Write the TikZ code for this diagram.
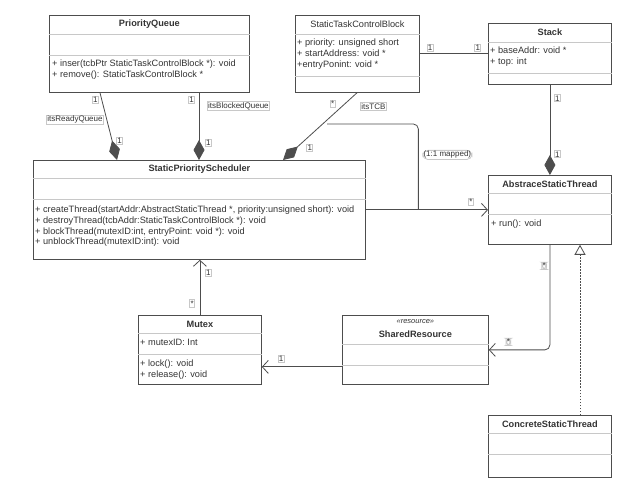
\documentclass[tikz,border=0pt]{standalone}
\usepackage{fontspec}
\setmainfont{Liberation Sans}
\usetikzlibrary{arrows.meta,calc}
\definecolor{ink}{HTML}{333333}
\definecolor{edge}{HTML}{4D4D4D}
\definecolor{rule}{HTML}{C8C8C8}

\begin{document}
\begin{tikzpicture}[x=1pt, y=-1pt,
  cls/.style={draw=edge, line width=0.8pt, anchor=north west, inner sep=0pt},
  clsname/.style={font=\fontsize{9.2}{10}\selectfont\bfseries, text=ink},
  member/.style={font=\fontsize{9.2}{10.7}\selectfont, text=ink, align=left, anchor=north west, inner sep=0pt},
  divider/.style={draw=rule, line width=0.6pt},
  mult/.style={font=\fontsize{8}{8}\selectfont, text=ink, draw=rule, fill=white, inner sep=0.8pt},
  compo/.style={draw=edge, line width=0.8pt, -{Diamond[length=20pt, width=11pt]}},
  assoc/.style={draw=edge, line width=0.8pt, -{Straight Barb[length=6pt, width=13pt]}},
  link/.style={draw=edge, line width=0.8pt},
  realize/.style={draw=edge, line width=0.8pt, dash pattern=on 1.5pt off 1.5pt, -{Triangle[open, length=10pt, width=11pt, fill=white]}},
]
\useasboundingbox (0,0) rectangle (637,502);

% classes
\node[cls, minimum width=200pt, minimum height=77pt] (pq) at (49,15) {};
\node[clsname] (pqname) at ($(pq.north)+(0,9.5)$) {PriorityQueue};
\draw[divider] ($(pq.north west)+(0,19)$) -- ($(pq.north east)+(0,19)$);
\draw[divider] ($(pq.north west)+(0,40)$) -- ($(pq.north east)+(0,40)$);
\node[member] (pqops) at ($(pq.north west)+(3,45)$) {+ inser(tcbPtr StaticTaskControlBlock *): void\\+ remove(): StaticTaskControlBlock *};

\node[cls, minimum width=124pt, minimum height=77pt] (stcb) at (295,15) {};
\node[clsname, font=\fontsize{9.2}{10}\selectfont] (stcbname) at ($(stcb.north)+(0,9.5)$) {StaticTaskControlBlock};
\draw[divider] ($(stcb.north west)+(0,19)$) -- ($(stcb.north east)+(0,19)$);
\draw[divider] ($(stcb.north west)+(0,61)$) -- ($(stcb.north east)+(0,61)$);
\node[member] (stcbattr) at ($(stcb.north west)+(2,24)$) {+ priority: unsigned short\\+ startAddress: void *\\+entryPonint: void *};

\node[cls, minimum width=123pt, minimum height=61pt] (stack) at (488,23) {};
\node[clsname] (stackname) at ($(stack.north)+(0,9.5)$) {Stack};
\draw[divider] ($(stack.north west)+(0,19)$) -- ($(stack.north east)+(0,19)$);
\draw[divider] ($(stack.north west)+(0,50)$) -- ($(stack.north east)+(0,50)$);
\node[member] (stackattr) at ($(stack.north west)+(2,24)$) {+ baseAddr: void *\\+ top: int};

\node[cls, minimum width=332pt, minimum height=99pt] (sps) at (33,160) {};
\node[clsname] (spsname) at ($(sps.north)+(0,9)$) {StaticPriorityScheduler};
\draw[divider] ($(sps.north west)+(0,18)$) -- ($(sps.north east)+(0,18)$);
\draw[divider] ($(sps.north west)+(0,39)$) -- ($(sps.north east)+(0,39)$);
\node[member] (spsops) at ($(sps.north west)+(2,46)$) {+ createThread(startAddr:AbstractStaticThread *, priority:unsigned short): void\\+ destroyThread(tcbAddr:StaticTaskControlBlock *): void\\+ blockThread(mutexID:int, entryPoint: void *): void\\+ unblockThread(mutexID:int): void};

\node[cls, minimum width=123pt, minimum height=69pt] (ast) at (488,175) {};
\node[clsname] (astname) at ($(ast.north)+(0,9)$) {AbstraceStaticThread};
\draw[divider] ($(ast.north west)+(0,18)$) -- ($(ast.north east)+(0,18)$);
\draw[divider] ($(ast.north west)+(0,39)$) -- ($(ast.north east)+(0,39)$);
\node[member] (astops) at ($(ast.north west)+(3,45)$) {+ run(): void};

\node[cls, minimum width=123pt, minimum height=69pt] (mutex) at (138,315) {};
\node[clsname] (mutexname) at ($(mutex.north)+(0,9)$) {Mutex};
\draw[divider] ($(mutex.north west)+(0,18)$) -- ($(mutex.north east)+(0,18)$);
\draw[divider] ($(mutex.north west)+(0,39)$) -- ($(mutex.north east)+(0,39)$);
\node[member] (mutexattr) at ($(mutex.north west)+(2,24)$) {+ mutexID: Int};
\node[member] (mutexops) at ($(mutex.north west)+(2,45)$) {+ lock(): void\\+ release(): void};

\node[cls, minimum width=146pt, minimum height=69pt] (sr) at (342,315) {};
\node[member, anchor=center, font=\fontsize{7.5}{8}\selectfont\itshape] (srtype) at ($(sr.north)+(0,7)$) {<<resource>>};
\node[clsname] (srname) at ($(sr.north)+(0,19)$) {SharedResource};
\draw[divider] ($(sr.north west)+(0,29)$) -- ($(sr.north east)+(0,29)$);
\draw[divider] ($(sr.north west)+(0,50)$) -- ($(sr.north east)+(0,50)$);

\node[cls, minimum width=123pt, minimum height=62pt] (cst) at (488,415) {};
\node[clsname] (cstname) at ($(cst.north)+(0,9)$) {ConcreteStaticThread};
\draw[divider] ($(cst.north west)+(0,18)$) -- ($(cst.north east)+(0,18)$);
\draw[divider] ($(cst.north west)+(0,39)$) -- ($(cst.north east)+(0,39)$);

% relations
\draw[compo] ($(pq.south west)+(51,0)$) --
  node[mult, pos=0.1, left=3pt] {1}
  node[mult, pos=0.4, left=3pt] {itsReadyQueue}
  node[mult, pos=0.72, right=4pt] {1} ($(sps.north west)+(84,0)$);
\draw[compo] ($(pq.south west)+(150,0)$) --
  node[mult, pos=0.1, left=4pt] {1}
  node[mult, pos=0.2, right=8pt] {itsBlockedQueue}
  node[mult, pos=0.75, right=6pt] {1} ($(sps.north west)+(166,0)$);
\draw[compo] ($(stcb.south west)+(62,0)$) --
  node[mult, pos=0.17, left=9pt] {*}
  node[mult, pos=0.2, right=18pt] {itsTCB}
  node[mult, pos=0.82, right=10pt] {1} ($(sps.north west)+(250,0)$);
\draw[link] (stcb.east) --
  node[mult, pos=0.15, above=2pt] {1}
  node[mult, pos=0.85, above=2pt] {1} (stack.west |- stcb.east);
\draw[compo] (stack.south) --
  node[mult, pos=0.15, right=4pt] {1}
  node[mult, pos=0.77, right=4pt] {1} (ast.north);
\draw[assoc] (sps.east) -- node[mult, pos=0.86, above=4pt] {*} (ast.west);
\coordinate (tcbmap) at (327,124);
\coordinate (mapjoin) at ($(sps.east)!0.43!(ast.west)$);
\draw[link, rounded corners=5pt] (tcbmap) -| node[mult, pos=0.68, right=4pt] {(1:1 mapped)} (mapjoin);
\draw[assoc, rounded corners=5pt] (ast.south) |-
  node[mult, pos=0.1, left=3pt] {*}
  node[mult, pos=0.84, above=4pt] {*} (sr.east);
\draw[assoc] ($(sr.west)+(0,17)$) -- node[mult, pos=0.76, above=4pt] {1} ($(mutex.east)+(0,17)$);
\draw[assoc] (mutex.north) --
  node[mult, pos=0.21, left=5pt] {*}
  node[mult, pos=0.77, right=5pt] {1} (mutex.north |- sps.south);
\draw[realize] ($(cst.north west)+(92,0)$) -- ($(ast.south west)+(92,0)$);
\end{tikzpicture}
\end{document}
